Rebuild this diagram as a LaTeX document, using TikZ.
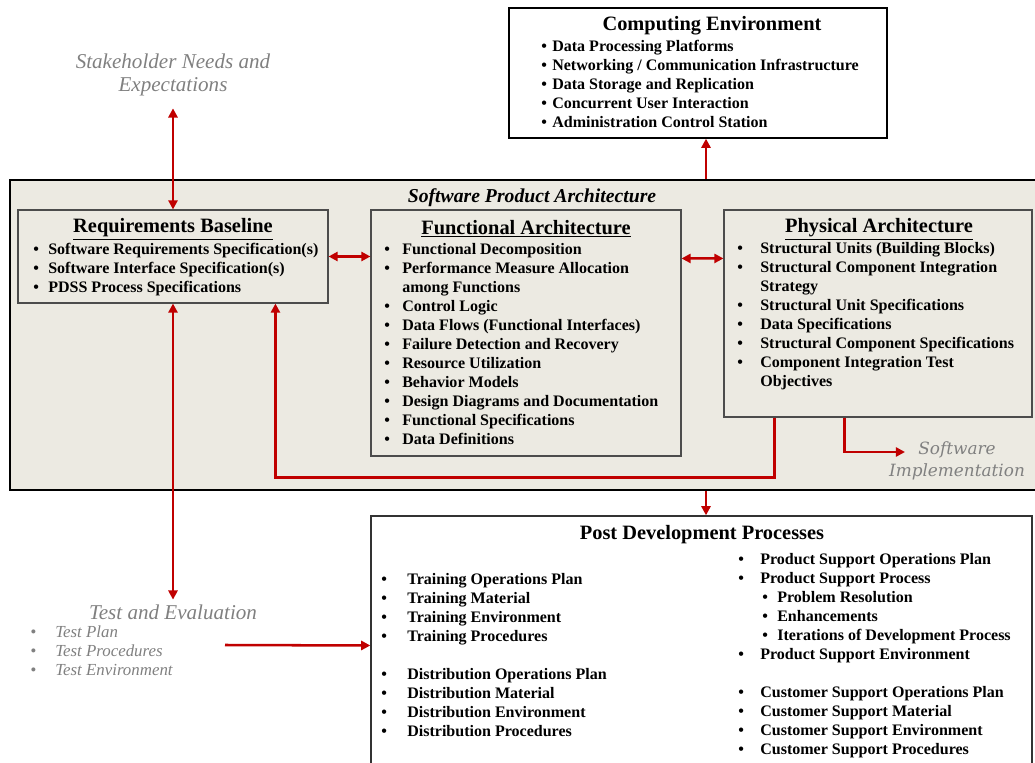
\documentclass[tikz,border=0pt]{standalone}
\usepackage{fontspec}
\setmainfont{Liberation Serif}
\newfontfamily\implfont{DejaVu Serif}
\usetikzlibrary{arrows.meta,fit,calc}
\definecolor{beige}{RGB}{236,234,226}
\definecolor{arrred}{RGB}{192,0,0}
\definecolor{greytext}{RGB}{128,128,128}
\newcommand{\bitem}[2]{\makebox[#1][l]{\textbullet}#2}
\newcommand{\bcont}[2]{\hspace*{#1}#2}
\tikzset{
  box/.style={draw=gray!60!black, line width=0.8pt, fill=beige, inner sep=0pt},
  wbox/.style={draw=black, line width=1pt, fill=white, inner sep=0pt},
  list/.style={anchor=north west, inner sep=0pt, align=left, font=\fontsize{11.4}{13.5}\selectfont\bfseries},
  head/.style={inner sep=0pt, font=\fontsize{14.5}{16}\selectfont\bfseries},
  greyt/.style={text=greytext, align=center, font=\fontsize{15}{16.4}\selectfont\itshape},
  arr/.style={draw=arrred, line width=1.8pt, -{Triangle[length=6.5pt,width=6.5pt]}},
  darr/.style={arr, {Triangle[length=6.5pt,width=6.5pt]}-{Triangle[length=6.5pt,width=6.5pt]}}
}
\begin{document}
\begin{tikzpicture}[x=0.025cm, y=-0.025cm]
\useasboundingbox (0,0) rectangle (1035,763);

% boxes
\node[box, draw=black, line width=2pt, fit={(10,180) (1045,490)}] (spa) {};
\node[font=\fontsize{14}{16}\selectfont\bfseries\itshape, inner sep=0pt] (spatitle) at (532,198) {Software Product Architecture};
\node[wbox, fit={(509,8) (887,138)}] (comp) {};
\node[box, fit={(18,210) (328,303)}] (req) {};
\node[box, fit={(371,210) (681,456)}] (func) {};
\node[box, fit={(724,210) (1032,417)}] (phys) {};
\node[wbox, draw=gray!40!black, fit={(371,516) (1032,775)}] (post) {};

% computing environment
\node[head] (comphead) at (712,26) {Computing Environment};
\node[list] (complist) at (541,40) {\bitem{0.275cm}{Data Processing Platforms}\\
  \bitem{0.275cm}{Networking / Communication Infrastructure}\\
  \bitem{0.275cm}{Data Storage and Replication}\\
  \bitem{0.275cm}{Concurrent User Interaction}\\
  \bitem{0.275cm}{Administration Control Station}};

% requirements baseline
\node[head] (reqhead) at (173,229) {\underline{Requirements Baseline}};
\node[list] (reqlist) at (33,243) {\bitem{0.375cm}{Software Requirements Specification(s)}\\
  \bitem{0.375cm}{Software Interface Specification(s)}\\
  \bitem{0.375cm}{PDSS Process Specifications}};

% functional architecture
\node[head] (funchead) at (526,229) {\underline{Functional Architecture}};
\node[list] (funclist) at (384,243) {\bitem{0.45cm}{Functional Decomposition}\\
  \bitem{0.45cm}{Performance Measure Allocation}\\
  \bcont{0.45cm}{among Functions}\\
  \bitem{0.45cm}{Control Logic}\\
  \bitem{0.45cm}{Data Flows (Functional Interfaces)}\\
  \bitem{0.45cm}{Failure Detection and Recovery}\\
  \bitem{0.45cm}{Resource Utilization}\\
  \bitem{0.45cm}{Behavior Models}\\
  \bitem{0.45cm}{Design Diagrams and Documentation}\\
  \bitem{0.45cm}{Functional Specifications}\\
  \bitem{0.45cm}{Data Definitions}};

% physical architecture
\node[head] (physhead) at (879,229) {\underline{Physical Architecture}};
\node[list] (physlist) at (737,242) {\bitem{0.575cm}{Structural Units (Building Blocks)}\\
  \bitem{0.575cm}{Structural Component Integration}\\
  \bcont{0.575cm}{Strategy}\\
  \bitem{0.575cm}{Structural Unit Specifications}\\
  \bitem{0.575cm}{Data Specifications}\\
  \bitem{0.575cm}{Structural Component Specifications}\\
  \bitem{0.575cm}{Component Integration Test}\\
  \bcont{0.575cm}{Objectives}};

% post development processes
\node[head] (posthead) at (702,535) {Post Development Processes};
\node[list] (postleft) at (381,573) {\bitem{0.65cm}{Training Operations Plan}\\
  \bitem{0.65cm}{Training Material}\\
  \bitem{0.65cm}{Training Environment}\\
  \bitem{0.65cm}{Training Procedures}\\[13.5pt]
  \bitem{0.65cm}{Distribution Operations Plan}\\
  \bitem{0.65cm}{Distribution Material}\\
  \bitem{0.65cm}{Distribution Environment}\\
  \bitem{0.65cm}{Distribution Procedures}};
\node[list] (postright) at (738,553) {\bitem{0.55cm}{Product Support Operations Plan}\\
  \bitem{0.55cm}{Product Support Process}\\
  \bcont{0.6cm}{\bitem{0.375cm}{Problem Resolution}}\\
  \bcont{0.6cm}{\bitem{0.375cm}{Enhancements}}\\
  \bcont{0.6cm}{\bitem{0.375cm}{Iterations of Development Process}}\\
  \bitem{0.55cm}{Product Support Environment}\\[13.5pt]
  \bitem{0.55cm}{Customer Support Operations Plan}\\
  \bitem{0.55cm}{Customer Support Material}\\
  \bitem{0.55cm}{Customer Support Environment}\\
  \bitem{0.55cm}{Customer Support Procedures}};

% outside texts
\node[greyt, inner sep=0pt] (stake) at (173,75) {Stakeholder Needs and\\Expectations};
\node[greyt] (teval) at (173,612) {Test and Evaluation};
\node[list, text=greytext, font=\fontsize{12}{13.5}\selectfont\itshape] (testlist) at (30,626) {\bitem{0.625cm}{Test Plan}\\
  \bitem{0.625cm}{Test Procedures}\\
  \bitem{0.625cm}{Test Environment}};
\node[greyt, inner sep=0pt, font=\fontsize{12}{15.6}\selectfont\implfont\itshape] (impl) at (957,461) {Software\\Implementation};

% connectors
\coordinate (cu) at ($(comp.south)+(8,0)$);
\coordinate (implin) at (905,452);
\coordinate (tout) at (225,645);
\draw[darr] ($(stake.south)+(0,12)$) -- (req.north);
\draw[darr] (req.south) -- (teval.north);
\draw[darr] (req.east) -- (req.east -| func.west);
\draw[darr] ($(func.north east)+(0,49)$) -- ($(phys.north west)+(0,49)$);
\draw[arr] ($(phys.south west)+(51,0)$) -- ++(0,60) -| ($(req.south west)+(258,0)$);
\draw[arr] ($(phys.south west)+(121,0)$) |- (implin);
\draw[arr] (cu |- spa.north) -- (cu);
\draw[arr] (cu |- spa.south) -- (cu |- post.north);
\draw[arr] (tout) -- (post.west);
\end{tikzpicture}
\end{document}
